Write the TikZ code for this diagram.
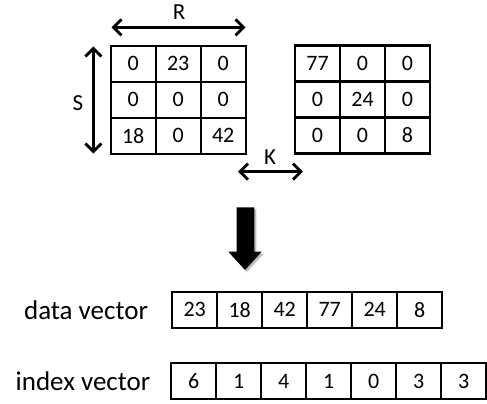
\documentclass[tikz,border=0pt]{standalone}
\usepackage{fontspec}
\setmainfont{Carlito}
\usetikzlibrary{arrows.meta}
\begin{document}
\begin{tikzpicture}[x=1pt,y=-1pt,
  cell/.style={draw,line width=2.2pt,minimum width=45pt,minimum height=36pt,inner sep=0pt,
    font=\fontsize{22}{26}\selectfont},
  dimarrow/.style={line width=2.8pt,{Straight Barb[length=8pt,width=16pt,line width=2.8pt]}-{Straight Barb[length=8pt,width=16pt,line width=2.8pt]}},
  dimlabel/.style={font=\fontsize{23}{26}\selectfont,inner sep=0pt},
  veclabel/.style={font=\fontsize{27}{32}\selectfont,inner sep=0pt}]
\useasboundingbox (0,0) rectangle (487,404);
% left matrix
\foreach \v [count=\i from 0] in {0,23,0,0,0,0,18,0,42}{
  \pgfmathtruncatemacro\r{int(\i/3)}
  \pgfmathtruncatemacro\c{mod(\i,3)}
  \node[cell] (a\r\c) at ({133.2+45*\c},{63.8+36*\r}) {\v};
}
% right matrix
\foreach \v [count=\i from 0] in {77,0,0,0,24,0,0,0,8}{
  \pgfmathtruncatemacro\r{int(\i/3)}
  \pgfmathtruncatemacro\c{mod(\i,3)}
  \node[cell] (b\r\c) at ({317.5+45*\c},{63.5+36*\r}) {\v};
}
% dimension arrows
\coordinate (r1) at (111.5,27.3);
\coordinate (r2) at (245.5,27.3);
\draw[dimarrow] (r1) -- (r2);
\node[dimlabel] (R) at (179,12) {R};
\coordinate (s1) at (93.3,46.5);
\coordinate (s2) at (93.3,153.5);
\draw[dimarrow] (s1) -- (s2);
\node[dimlabel] (S) at (78,103) {S};
\coordinate (k1) at (238,171.7);
\coordinate (k2) at (303,171.7);
\draw[dimarrow] (k1) -- (k2);
\node[dimlabel] (K) at (270,157) {K};
% big arrow
\fill[black!25] (238.7,209.3) -- (256.3,209.3) -- (256.3,253.7) -- (263.7,253.7) -- (247,272) -- (230.3,253.7) -- (238.7,253.7) -- cycle;
\fill[black] (236.7,207.3) -- (254.3,207.3) -- (254.3,251.7) -- (261.7,251.7) -- (245,270) -- (228.3,251.7) -- (236.7,251.7) -- cycle;
% data vector
\node[veclabel] (dl) at (86,310) {data vector};
\foreach \v [count=\i from 0] in {23,18,42,77,24,8}{
  \node[cell] (d\i) at ({194.7+45*\i},309.7) {\v};
}
% index vector
\node[veclabel] (il) at (83,381) {index vector};
\foreach \v [count=\i from 0] in {6,1,4,1,0,3,3}{
  \node[cell] (x\i) at ({193.7+45*\i},381.3) {\v};
}
\end{tikzpicture}
\end{document}
